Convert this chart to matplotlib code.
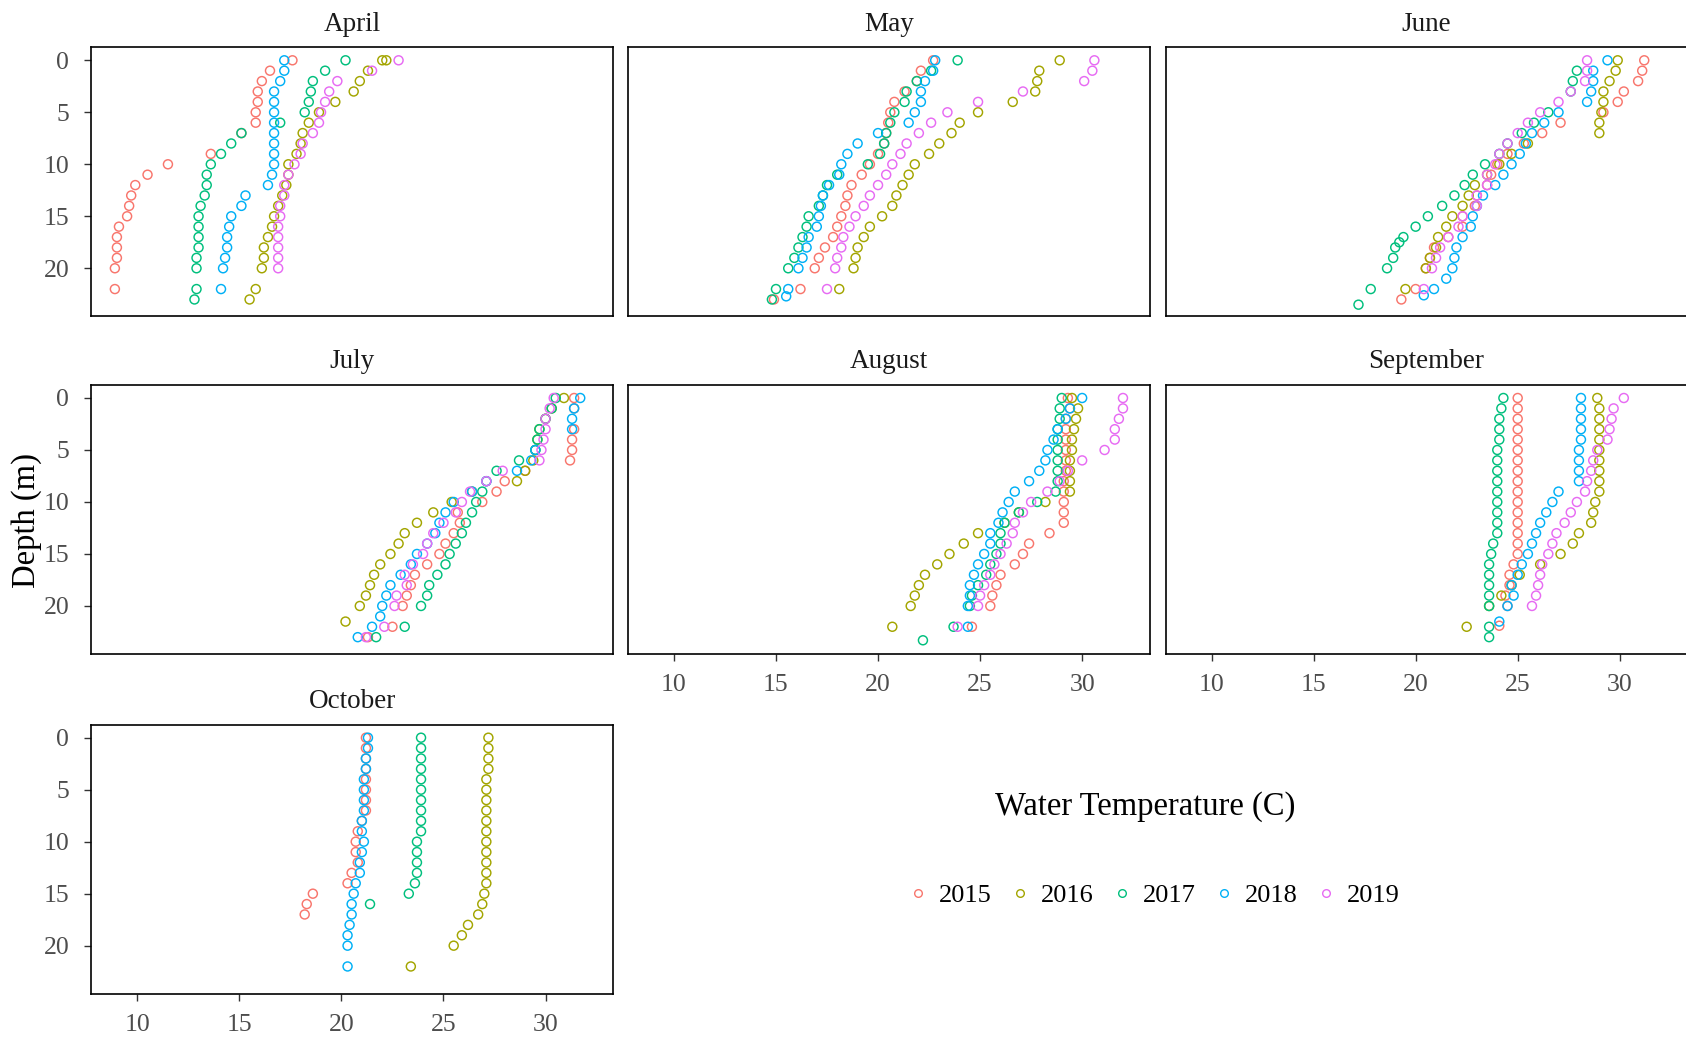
import matplotlib.pyplot as plt
from matplotlib.lines import Line2D

plt.rcParams['font.family'] = ['Liberation Serif', 'DejaVu Serif']

years = [2015, 2016, 2017, 2018, 2019]
colors = ['#F8766D', '#A3A500', '#00BF7D', '#00B0F6', '#E76BF3']
months = ['April', 'May', 'June', 'July', 'August', 'September', 'October']
x_ticks = [10, 15, 20, 25, 30]
y_ticks = [0, 5, 10, 15, 20]

# depth (m), temperature (C) per year
april = {
    2015: ([0, 1, 2, 3, 4, 5, 6, 7, 9, 10, 11, 12, 13, 14, 15, 16, 17, 18, 19, 20, 22],
           [17.6, 16.5, 16.1, 15.9, 15.9, 15.8, 15.8, 15.1, 13.6, 11.5, 10.5, 9.9, 9.7, 9.6, 9.5, 9.1, 9.0, 9.0, 9.0, 8.9, 8.9]),
    2016: ([0, 0, 1, 2, 3, 4, 5, 6, 7, 8, 9, 10, 11, 12, 13, 14, 15, 16, 17, 18, 19, 20, 22, 23],
           [22.0, 22.2, 21.3, 20.9, 20.6, 19.7, 18.9, 18.4, 18.1, 18.0, 17.8, 17.4, 17.4, 17.3, 17.1, 16.9, 16.7, 16.6, 16.4, 16.2, 16.2, 16.1, 15.8, 15.5]),
    2017: ([0, 1, 2, 3, 4, 5, 6, 7, 8, 9, 10, 11, 12, 13, 14, 15, 16, 17, 18, 19, 20, 22, 23],
           [20.2, 19.2, 18.6, 18.5, 18.4, 18.2, 17.0, 15.1, 14.6, 14.1, 13.6, 13.4, 13.4, 13.3, 13.1, 13.0, 13.0, 13.0, 13.0, 12.9, 12.9, 12.9, 12.8]),
    2018: ([0, 1, 2, 3, 4, 5, 6, 7, 8, 9, 10, 11, 12, 13, 14, 15, 16, 17, 18, 19, 20, 22],
           [17.2, 17.2, 17.0, 16.7, 16.7, 16.7, 16.7, 16.7, 16.7, 16.7, 16.7, 16.6, 16.4, 15.3, 15.1, 14.6, 14.5, 14.4, 14.4, 14.3, 14.2, 14.1]),
    2019: ([0, 1, 2, 3, 4, 5, 6, 7, 8, 9, 10, 11, 12, 13, 14, 15, 16, 17, 18, 19, 20],
           [22.8, 21.5, 19.8, 19.4, 19.2, 19.0, 18.9, 18.6, 18.1, 18.0, 17.7, 17.4, 17.2, 17.2, 17.0, 17.0, 16.9, 16.9, 16.9, 16.9, 16.9]),
}

may = {
    2015: ([0, 1, 2, 3, 4, 5, 6, 7, 8, 9, 10, 11, 12, 13, 14, 15, 16, 17, 18, 19, 20, 22, 23],
           [22.7, 22.1, 21.9, 21.3, 20.8, 20.6, 20.5, 20.4, 20.3, 20.0, 19.6, 19.2, 18.7, 18.5, 18.4, 18.2, 18.0, 17.8, 17.4, 17.1, 16.9, 16.2, 14.9]),
    2016: ([0, 1, 2, 3, 4, 5, 6, 7, 8, 9, 10, 11, 12, 13, 14, 15, 16, 17, 18, 19, 20, 22],
           [28.9, 27.9, 27.8, 27.7, 26.6, 24.9, 24.0, 23.6, 23.0, 22.5, 21.8, 21.5, 21.2, 20.9, 20.7, 20.2, 19.6, 19.3, 19.0, 18.9, 18.8, 18.1]),
    2017: ([0, 1, 2, 3, 4, 5, 6, 7, 8, 9, 10, 11, 12, 13, 14, 15, 16, 17, 18, 19, 20, 22, 23],
           [23.9, 22.6, 21.9, 21.4, 21.3, 20.8, 20.6, 20.4, 20.3, 20.1, 19.5, 18.0, 17.5, 17.3, 17.1, 16.6, 16.5, 16.3, 16.1, 15.9, 15.6, 15.0, 14.8]),
    2018: ([0, 1, 2, 3, 4, 5, 6, 7, 8, 9, 10, 11, 12, 13, 14, 15, 16, 17, 18, 19, 20, 22, 22.7],
           [22.8, 22.7, 22.3, 22.1, 22.1, 21.8, 21.5, 20.0, 19.0, 18.5, 18.2, 18.1, 17.6, 17.3, 17.2, 17.1, 17.0, 16.6, 16.5, 16.3, 16.1, 15.6, 15.5]),
    2019: ([0, 1, 2, 3, 4, 5, 6, 7, 8, 9, 10, 11, 12, 13, 14, 15, 16, 17, 18, 19, 20, 22],
           [30.6, 30.5, 30.1, 27.1, 24.9, 23.4, 22.6, 22.0, 21.4, 21.1, 20.7, 20.4, 20.0, 19.6, 19.3, 18.9, 18.6, 18.3, 18.2, 18.0, 17.9, 17.5]),
}

june = {
    2015: ([0, 1, 2, 3, 4, 5, 6, 7, 8, 9, 10, 11, 12, 13, 14, 15, 16, 17, 18, 19, 20, 22, 23],
           [31.2, 31.1, 30.9, 30.2, 29.9, 29.2, 27.1, 26.2, 25.3, 24.5, 24.0, 23.7, 23.5, 23.0, 22.9, 22.3, 22.3, 21.6, 20.9, 20.7, 20.5, 20.0, 19.3]),
    2016: ([0, 1, 2, 3, 4, 5, 6, 7, 8, 9, 10, 11, 12, 13, 14, 15, 16, 17, 18, 19, 20, 22],
           [29.9, 29.8, 29.5, 29.2, 29.2, 29.1, 29.0, 29.0, 25.5, 24.7, 24.1, 23.5, 22.9, 22.6, 22.3, 21.8, 21.5, 21.1, 21.0, 20.7, 20.5, 19.5]),
    2017: ([1, 2, 3, 5, 6, 7, 8, 9, 10, 11, 12, 13, 14, 15, 16, 17, 17.5, 18, 19, 20, 22, 23.5],
           [27.9, 27.7, 27.6, 26.5, 25.8, 25.2, 24.5, 24.1, 23.4, 22.8, 22.4, 21.9, 21.3, 20.6, 20.0, 19.4, 19.2, 19.0, 18.9, 18.6, 17.8, 17.2]),
    2018: ([0, 1, 2, 3, 4, 5, 6, 7, 8, 9, 10, 11, 12, 13, 14, 15, 16, 17, 18, 19, 20, 21, 22, 22.6],
           [29.4, 28.7, 28.7, 28.6, 28.4, 27.0, 26.3, 25.7, 25.4, 25.1, 24.7, 24.3, 23.9, 23.3, 23.0, 22.8, 22.7, 22.3, 22.0, 21.9, 21.8, 21.5, 20.9, 20.4]),
    2019: ([0, 1, 2, 3, 4, 5, 6, 7, 8, 9, 10, 11, 12, 13, 14, 15, 16, 17, 18, 19, 20, 22],
           [28.4, 28.4, 28.3, 27.6, 27.0, 26.1, 25.5, 25.0, 24.5, 24.1, 23.9, 23.5, 23.5, 23.0, 23.0, 22.3, 22.1, 21.6, 21.2, 21.0, 20.8, 20.4]),
}

july = {
    2015: ([0, 1, 3, 4, 5, 6, 7, 8, 9, 10, 11, 12, 13, 14, 15, 16, 17, 18, 19, 20, 22, 23],
           [31.4, 31.4, 31.4, 31.3, 31.3, 31.2, 29.0, 28.0, 27.6, 26.9, 25.7, 25.8, 25.5, 25.1, 24.8, 24.2, 23.6, 23.4, 23.2, 23.0, 22.5, 21.3]),
    2016: ([0, 1, 2, 3, 4, 5, 6, 7, 8, 9, 10, 11, 12, 13, 14, 15, 16, 17, 18, 19, 20, 21.5],
           [30.9, 30.3, 30.0, 29.7, 29.6, 29.5, 29.4, 29.0, 28.6, 26.4, 25.4, 24.5, 23.7, 23.1, 22.8, 22.4, 21.9, 21.6, 21.4, 21.2, 20.9, 20.2]),
    2017: ([0, 1, 2, 3, 4, 5, 6, 7, 8, 9, 10, 11, 12, 13, 14, 15, 16, 17, 18, 19, 20, 22, 23],
           [30.5, 30.3, 30.0, 29.7, 29.6, 29.5, 28.7, 27.6, 27.1, 26.9, 26.6, 26.4, 26.1, 25.9, 25.6, 25.3, 25.1, 24.7, 24.3, 24.2, 23.9, 23.1, 21.7]),
    2018: ([0, 1, 2, 3, 5, 6, 7, 8, 9, 10, 11, 12, 13, 14, 15, 16, 17, 18, 19, 20, 21, 22, 23],
           [31.7, 31.4, 31.3, 31.3, 29.5, 29.3, 28.6, 27.1, 26.4, 25.5, 25.1, 24.8, 24.6, 24.2, 23.7, 23.4, 22.9, 22.4, 22.2, 22.0, 21.9, 21.5, 20.8]),
    2019: ([0, 1, 2, 3, 4, 5, 6, 7, 8, 9, 10, 11, 12, 13, 14, 15, 16, 17, 18, 19, 20, 22, 23],
           [30.4, 30.2, 30.0, 30.0, 29.9, 29.8, 29.7, 27.9, 27.1, 26.3, 25.9, 25.6, 25.0, 24.5, 24.2, 24.0, 23.5, 23.1, 23.2, 22.7, 22.6, 22.1, 21.2]),
}

august = {
    2015: ([0, 1, 2, 3, 4, 5, 6, 7, 8, 9, 10, 11, 12, 13, 14, 15, 16, 17, 18, 19, 20, 22],
           [29.3, 29.4, 29.2, 29.2, 29.2, 29.2, 29.2, 29.2, 29.1, 29.1, 29.1, 29.1, 29.1, 28.4, 27.4, 27.1, 26.7, 26.0, 25.8, 25.6, 25.5, 24.6]),
    2016: ([0, 1, 2, 3, 4, 5, 6, 7, 8, 9, 10, 11, 12, 13, 14, 15, 16, 17, 18, 19, 20, 22],
           [29.5, 29.8, 29.7, 29.6, 29.5, 29.5, 29.4, 29.4, 29.4, 29.4, 28.2, 26.9, 26.2, 24.9, 24.2, 23.5, 22.9, 22.3, 22.0, 21.8, 21.6, 20.7]),
    2017: ([0, 1, 2, 3, 4, 5, 6, 7, 8, 9, 10, 11, 12, 13, 14, 15, 16, 17, 18, 19, 20, 22, 23.3],
           [29.0, 28.9, 28.9, 28.8, 28.8, 28.8, 28.8, 28.8, 28.8, 28.7, 27.8, 26.9, 26.2, 26.0, 26.0, 25.8, 25.5, 25.3, 24.9, 24.6, 24.5, 23.7, 22.2]),
    2018: ([0, 1, 2, 3, 4, 5, 6, 7, 8, 9, 10, 11, 12, 13, 14, 15, 16, 17, 18, 19, 20, 22],
           [30.0, 29.4, 29.2, 28.8, 28.6, 28.3, 28.2, 27.9, 27.4, 26.7, 26.4, 26.1, 25.9, 25.5, 25.5, 25.2, 24.9, 24.7, 24.5, 24.5, 24.4, 24.4]),
    2019: ([0, 1, 2, 3, 4, 5, 6, 7, 8, 9, 10, 11, 12, 13, 14, 15, 16, 17, 18, 19, 20, 22],
           [32.0, 32.0, 31.8, 31.6, 31.6, 31.1, 30.0, 29.3, 28.9, 28.3, 27.5, 27.1, 26.7, 26.6, 26.3, 26.0, 25.7, 25.5, 25.2, 25.0, 24.9, 23.9]),
}

september = {
    2015: ([0, 1, 2, 3, 4, 5, 6, 7, 8, 9, 10, 11, 12, 13, 14, 15, 16, 17, 18, 19, 20, 21.9],
           [25.0, 25.0, 25.0, 25.0, 25.0, 25.0, 25.0, 25.0, 25.0, 25.0, 25.0, 25.0, 25.0, 25.0, 25.0, 25.0, 24.8, 24.6, 24.6, 24.4, 24.5, 24.1]),
    2016: ([0, 1, 2, 3, 4, 5, 6, 7, 8, 9, 10, 11, 12, 13, 14, 15, 16, 17, 18, 19, 20, 22],
           [28.9, 29.0, 29.0, 29.0, 29.0, 29.0, 29.0, 29.0, 29.0, 29.0, 28.8, 28.7, 28.6, 28.0, 27.7, 27.1, 26.1, 25.1, 24.7, 24.2, 23.6, 22.5]),
    2017: ([0, 1, 2, 3, 4, 5, 6, 7, 8, 9, 10, 11, 12, 13, 14, 15, 16, 17, 18, 19, 20, 22, 23],
           [24.3, 24.2, 24.1, 24.1, 24.1, 24.0, 24.0, 24.0, 24.0, 24.0, 24.0, 24.0, 24.0, 24.0, 23.8, 23.7, 23.6, 23.6, 23.6, 23.6, 23.6, 23.6, 23.6]),
    2018: ([0, 1, 2, 3, 4, 5, 6, 7, 8, 9, 10, 11, 12, 13, 14, 15, 16, 17, 18, 19, 20, 21.5],
           [28.1, 28.1, 28.1, 28.1, 28.1, 28.0, 28.0, 28.0, 28.0, 27.0, 26.7, 26.4, 26.1, 25.9, 25.7, 25.5, 25.2, 25.0, 24.7, 24.8, 24.5, 24.1]),
    2019: ([0, 1, 2, 3, 4, 5, 6, 7, 8, 9, 10, 11, 12, 13, 14, 15, 16, 17, 18, 19, 20],
           [30.2, 29.7, 29.6, 29.5, 29.4, 28.9, 28.7, 28.6, 28.4, 28.3, 27.9, 27.6, 27.3, 26.9, 26.7, 26.5, 26.2, 26.1, 26.0, 25.9, 25.7]),
}

october = {
    2015: ([0, 1, 2, 3, 4, 5, 6, 7, 8, 9, 10, 11, 12, 13, 14, 15, 16, 17],
           [21.2, 21.2, 21.2, 21.2, 21.2, 21.2, 21.2, 21.2, 21.0, 20.8, 20.7, 20.7, 20.8, 20.5, 20.3, 18.6, 18.3, 18.2]),
    2016: ([0, 1, 2, 3, 4, 5, 6, 7, 8, 9, 10, 11, 12, 13, 14, 15, 16, 17, 18, 19, 20, 22],
           [27.2, 27.2, 27.2, 27.2, 27.1, 27.1, 27.1, 27.1, 27.1, 27.1, 27.1, 27.1, 27.1, 27.1, 27.1, 27.0, 26.9, 26.7, 26.2, 25.9, 25.5, 23.4]),
    2017: ([0, 1, 2, 3, 4, 5, 6, 7, 8, 9, 10, 11, 12, 13, 14, 15, 16],
           [23.9, 23.9, 23.9, 23.9, 23.9, 23.9, 23.9, 23.9, 23.9, 23.9, 23.7, 23.7, 23.7, 23.7, 23.6, 23.3, 21.4]),
    2018: ([0, 1, 2, 3, 4, 5, 6, 7, 8, 9, 10, 11, 12, 13, 14, 15, 16, 17, 18, 19, 20, 22],
           [21.3, 21.3, 21.2, 21.2, 21.1, 21.1, 21.1, 21.1, 21.0, 21.0, 21.1, 21.0, 20.9, 20.9, 20.7, 20.6, 20.5, 20.5, 20.4, 20.3, 20.3, 20.3]),
}

month_data = [april, may, june, july, august, september, october]

# panel boxes in pixels (left, top), figure is 1686 x 1037
W, H = 1686, 1037
col_left = [91.4, 628.0, 1165.6]
row_top = [47.3, 385.0, 724.7]
pw, ph = 521.5, 268.8

fig = plt.figure(figsize=(W / 100, H / 100), dpi=100)

for i, (month, data) in enumerate(zip(months, month_data)):
    r, c = divmod(i, 3)
    ax = fig.add_axes([col_left[c] / W, 1 - (row_top[r] + ph) / H, pw / W, ph / H])
    for yr, col in zip(years, colors):
        if yr in data:
            d, t = data[yr]
            ax.scatter(t, d, s=42, facecolors='none', edgecolors=col, linewidths=1.05)
    ax.set_xlim(7.75, 33.3)
    ax.set_ylim(24.6, -1.25)
    ax.set_xticks(x_ticks)
    ax.set_yticks(y_ticks)
    for sp in ax.spines.values():
        sp.set_linewidth(1.2)
        sp.set_color('black')
    show_x = month in ('August', 'September', 'October')
    show_y = c == 0
    ax.tick_params(axis='x', length=5 if show_x else 0, width=1, color='#333333',
                   labelbottom=show_x, labelsize=18.5, labelcolor='#4D4D4D', pad=9.5)
    ax.tick_params(axis='y', length=5 if show_y else 0, width=1, color='#333333',
                   labelleft=show_y, labelsize=18.5, labelcolor='#4D4D4D', pad=11)
    ax.set_title(month, fontsize=19.5, pad=12, color='#1A1A1A')

fig.text(27 / W, 1 - 520 / H, 'Depth (m)', rotation=90, ha='center', va='center', fontsize=23.5)
fig.text(1145 / W, 1 - 807 / H, 'Water Temperature (C)', ha='center', va='center', fontsize=23.5)

handles = [Line2D([], [], linestyle='none', marker='o', markersize=5.5, markerfacecolor='none',
                  markeredgecolor=col, markeredgewidth=1.0) for col in colors]
fig.legend(handles, [str(y) for y in years], ncol=5, loc='center',
           bbox_to_anchor=(1155 / W, 1 - 895 / H), frameon=False, fontsize=19,
           handlelength=0.6, handletextpad=0.5, columnspacing=0.76)

fig.savefig('out.png', dpi=100)
